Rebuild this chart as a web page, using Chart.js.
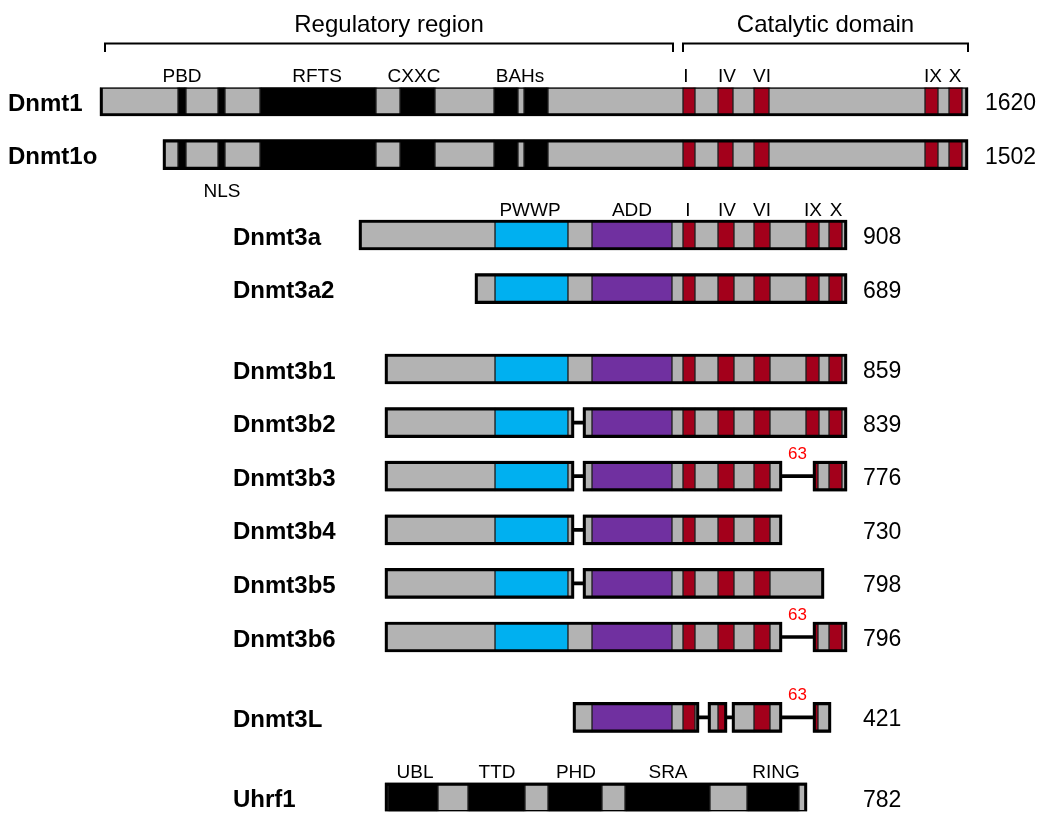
<!DOCTYPE html>
<html>
<head>
<meta charset="utf-8">
<script src="https://cdn.jsdelivr.net/npm/chart.js@4/dist/chart.umd.min.js"></script>
<style>
body { margin: 0; background: #fff; }
#wrap { width: 1050px; height: 828px; position: relative; }
</style>
</head>
<body>
<div id="wrap"><canvas id="myChart"></canvas></div>
<script>
// ===========================
// DATA SECTION
// ===========================

// proteins, top to bottom, and their lengths (aa)
const proteins = ['Dnmt1', 'Dnmt1o', 'Dnmt3a', 'Dnmt3a2', 'Dnmt3b1', 'Dnmt3b2', 'Dnmt3b3',
                  'Dnmt3b4', 'Dnmt3b5', 'Dnmt3b6', 'Dnmt3L', 'Uhrf1'];
const lengths = [1620, 1502, 908, 689, 859, 839, 776, 730, 798, 796, 421, 782];

// empty rows in front of each protein (spacing of the figure)
const rowGaps = [0, 1, 2, 1, 2, 1, 1, 1, 1, 1, 2, 2];

// segments of each protein: [start, end, kind]  (g grey, k black, b PWWP, p ADD, r motif)
const segDnmt1 = [[100,178,'g'],[178,186,'k'],[186,218,'g'],[218,225,'k'],[225,260,'g'],[260,376,'k'],
  [376,400,'g'],[400,435,'k'],[435,494,'g'],[494,518,'k'],[518,524,'g'],[524,548,'k'],[548,683,'g'],
  [683,695,'r'],[695,718,'g'],[718,733,'r'],[733,754,'g'],[754,769,'r'],[769,925,'g'],[925,938,'r'],
  [938,949,'g'],[949,962,'r'],[962,968,'g']];
const segDnmt1o = [[163,178,'g'],[178,186,'k'],[186,218,'g'],[218,225,'k'],[225,260,'g'],[260,376,'k'],
  [376,400,'g'],[400,435,'k'],[435,494,'g'],[494,518,'k'],[518,524,'g'],[524,548,'k'],[548,683,'g'],
  [683,695,'r'],[695,718,'g'],[718,733,'r'],[733,754,'g'],[754,769,'r'],[769,925,'g'],[925,938,'r'],
  [938,949,'g'],[949,962,'r'],[962,968,'g']];
const segDnmt3a = [[359,495,'g'],[495,568,'b'],[568,592,'g'],[592,672,'p'],[672,683,'g'],[683,695,'r'],
  [695,718,'g'],[718,734,'r'],[734,754,'g'],[754,770,'r'],[770,806,'g'],[806,819,'r'],[819,829,'g'],
  [829,842,'r'],[842,847,'g']];
const segDnmt3a2 = [[475,495,'g'],[495,568,'b'],[568,592,'g'],[592,672,'p'],[672,683,'g'],[683,695,'r'],
  [695,718,'g'],[718,734,'r'],[734,754,'g'],[754,770,'r'],[770,806,'g'],[806,819,'r'],[819,829,'g'],
  [829,842,'r'],[842,847,'g']];
const segDnmt3b1 = [[385,495,'g'],[495,568,'b'],[568,592,'g'],[592,672,'p'],[672,683,'g'],[683,695,'r'],
  [695,718,'g'],[718,734,'r'],[734,754,'g'],[754,770,'r'],[770,806,'g'],[806,819,'r'],[819,829,'g'],
  [829,842,'r'],[842,847,'g']];
const segDnmt3b2 = [[385,495,'g'],[495,568,'b'],[568,574,'g'],[583,592,'g'],[592,672,'p'],[672,683,'g'],
  [683,695,'r'],[695,718,'g'],[718,734,'r'],[734,754,'g'],[754,770,'r'],[770,806,'g'],[806,819,'r'],
  [819,829,'g'],[829,842,'r'],[842,847,'g']];
const segDnmt3b3 = [[385,495,'g'],[495,568,'b'],[568,574,'g'],[583,592,'g'],[592,672,'p'],[672,683,'g'],
  [683,695,'r'],[695,718,'g'],[718,734,'r'],[734,754,'g'],[754,770,'r'],[770,782,'g'],
  [813,818,'r'],[818,829,'g'],[829,842,'r'],[842,847,'g']];
const segDnmt3b4 = [[385,495,'g'],[495,568,'b'],[568,574,'g'],[583,592,'g'],[592,672,'p'],[672,683,'g'],
  [683,695,'r'],[695,718,'g'],[718,734,'r'],[734,754,'g'],[754,770,'r'],[770,782,'g']];
const segDnmt3b5 = [[385,495,'g'],[495,568,'b'],[568,574,'g'],[583,592,'g'],[592,672,'p'],[672,683,'g'],
  [683,695,'r'],[695,718,'g'],[718,734,'r'],[734,754,'g'],[754,770,'r'],[770,824,'g']];
const segDnmt3b6 = [[385,495,'g'],[495,568,'b'],[568,592,'g'],[592,672,'p'],[672,683,'g'],
  [683,695,'r'],[695,718,'g'],[718,734,'r'],[734,754,'g'],[754,770,'r'],[770,782,'g'],
  [813,818,'r'],[818,829,'g'],[829,842,'r'],[842,847,'g']];
const segDnmt3L = [[573,592,'g'],[592,672,'p'],[672,683,'g'],[683,695,'r'],[695,699,'g'],
  [708,718,'g'],[718,727,'r'],[732,754,'g'],[754,770,'r'],[770,782,'g'],[813,818,'r'],[818,831,'g']];
const segUhrf1 = [[385,388,'g'],[388,438,'k'],[438,468,'g'],[468,525,'k'],[525,548,'g'],[548,602,'k'],
  [602,625,'g'],[625,710,'k'],[710,747,'g'],[747,799,'k'],[799,807,'g']];

const segments = [segDnmt1, segDnmt1o, segDnmt3a, segDnmt3a2, segDnmt3b1, segDnmt3b2, segDnmt3b3,
                  segDnmt3b4, segDnmt3b5, segDnmt3b6, segDnmt3L, segUhrf1];

// domain names above (or below) the bars: [text, centre]
const dnmt1Domains = [['PBD',182],['RFTS',317],['CXXC',414],['BAHs',520],['I',686],['IV',727],['VI',762],['IX',933],['X',955]];
const dnmt3aDomains = [['PWWP',530],['ADD',632],['I',688],['IV',727],['VI',762],['IX',813],['X',836]];
const uhrf1Domains = [['UBL',415],['TTD',497],['PHD',576],['SRA',668],['RING',776]];
const dnmt1oDomains = [['NLS',222]];

// deleted residues shown over the long linker
const deletions = {'Dnmt3b3': '63', 'Dnmt3b6': '63', 'Dnmt3L': '63'};

// region brackets: [title, start, end]
const regions = [['Regulatory region', 105, 673], ['Catalytic domain', 683, 968]];

// ===========================
// BUILD DATASETS
// ===========================

const colors = { g: '#b3b3b3', k: '#000000', b: '#00b0f0', p: '#7030a0', r: '#a3001b' };

// y labels with blank rows for spacing
const rowLabels = [];
proteins.forEach((p, i) => {
    for (let j = 0; j < rowGaps[i]; j++) rowLabels.push('');
    rowLabels.push(p);
});

// merge touching segments into boxes, gaps between boxes become linkers
const boxes = [];
const linkers = [];
segments.forEach((segs, i) => {
    let cur = null;
    segs.forEach((s) => {
        if (cur && cur[1] == s[0]) {
            cur[1] = s[1];
        } else {
            if (cur) {
                boxes.push({x: [cur[0], cur[1]], y: proteins[i]});
                linkers.push({x: [cur[1], s[0]], y: proteins[i]});
            }
            cur = [s[0], s[1]];
        }
    });
    boxes.push({x: [cur[0], cur[1]], y: proteins[i]});
});

const fillData = { g: [], k: [], b: [], p: [], r: [] };
segments.forEach((segs, i) => {
    segs.forEach((s) => fillData[s[2]].push({x: [s[0], s[1]], y: proteins[i]}));
});

const datasets = [];
datasets.push({
    label: 'outline', data: boxes, order: 0,
    backgroundColor: 'rgba(0,0,0,0)', borderColor: '#000', borderWidth: 2.5,
    borderSkipped: false, barThickness: 30, grouped: false
});
Object.keys(fillData).forEach((k) => {
    datasets.push({
        label: k, data: fillData[k], order: 1,
        backgroundColor: colors[k], borderColor: '#222', borderWidth: 1,
        borderSkipped: false, barThickness: 30, grouped: false
    });
});
datasets.push({
    label: 'linker', data: linkers, order: 2,
    backgroundColor: '#000', borderWidth: 0, barThickness: 3, grouped: false
});

// ===========================
// TEXT PLUGIN
// ===========================

const FONT = '"Liberation Sans", Arial, sans-serif';

const textPlugin = {
    id: 'texts',
    afterDatasetsDraw(chart) {
        const ctx = chart.ctx;
        const x = chart.scales.x;
        const y = chart.scales.y;
        ctx.save();
        ctx.fillStyle = '#000';

        // names and lengths
        proteins.forEach((p, i) => {
            const yc = y.getPixelForValue(rowLabels.indexOf(p));
            const wide = i < 2;
            ctx.font = 'bold 24px ' + FONT;
            ctx.textAlign = 'left';
            ctx.fillStyle = '#000';
            ctx.fillText(p, x.getPixelForValue(wide ? 8 : 233), yc + 9.5);
            ctx.font = '23px ' + FONT;
            ctx.fillText(String(lengths[i]), x.getPixelForValue(wide ? 985 : 863), yc + 9);

            // deletion note over the long linker
            if (deletions[p]) {
                const segs = segments[i];
                let best = null;
                for (let j = 1; j < segs.length; j++) {
                    const gap = segs[j][0] - segs[j - 1][1];
                    if (gap > 0 && (!best || gap > best[1] - best[0])) best = [segs[j - 1][1], segs[j][0]];
                }
                ctx.font = '17px ' + FONT;
                ctx.fillStyle = '#ff0000';
                ctx.textAlign = 'center';
                ctx.fillText(deletions[p], x.getPixelForValue((best[0] + best[1]) / 2), yc - 17);
            }
        });

        // domain labels
        ctx.fillStyle = '#000';
        ctx.font = '19px ' + FONT;
        ctx.textAlign = 'center';
        const put = (list, name, dy) => {
            const yc = y.getPixelForValue(rowLabels.indexOf(name));
            list.forEach((d) => ctx.fillText(d[0], x.getPixelForValue(d[1]), yc + dy));
        };
        put(dnmt1Domains, 'Dnmt1', -19.5);
        put(dnmt3aDomains, 'Dnmt3a', -19.5);
        put(uhrf1Domains, 'Uhrf1', -20);
        put(dnmt1oDomains, 'Dnmt1o', 42.5);

        // brackets + titles
        ctx.font = '24px ' + FONT;
        ctx.lineWidth = 2;
        ctx.strokeStyle = '#000';
        regions.forEach((r) => {
            const x0 = x.getPixelForValue(r[1]);
            const x1 = x.getPixelForValue(r[2]);
            ctx.beginPath();
            ctx.moveTo(x0, 52);
            ctx.lineTo(x0, 43.5);
            ctx.lineTo(x1, 43.5);
            ctx.lineTo(x1, 52);
            ctx.stroke();
            ctx.fillText(r[0], (x0 + x1) / 2, 31.5);
        });
        ctx.restore();
    }
};

// ===========================
// CHART
// ===========================

const chart = new Chart(document.getElementById('myChart'), {
    type: 'bar',
    data: { labels: rowLabels, datasets: datasets },
    options: {
        indexAxis: 'y',
        responsive: true,
        maintainAspectRatio: false,
        animation: false,
        layout: { padding: { top: 87.6, bottom: 16.8, left: 0, right: 0 } },
        plugins: { legend: { display: false }, tooltip: { enabled: false } },
        scales: {
            x: { type: 'linear', min: 0, max: 1050, display: false },
            y: { type: 'category', display: false, grid: { display: false } }
        }
    },
    plugins: [textPlugin]
});
</script>
</body>
</html>
